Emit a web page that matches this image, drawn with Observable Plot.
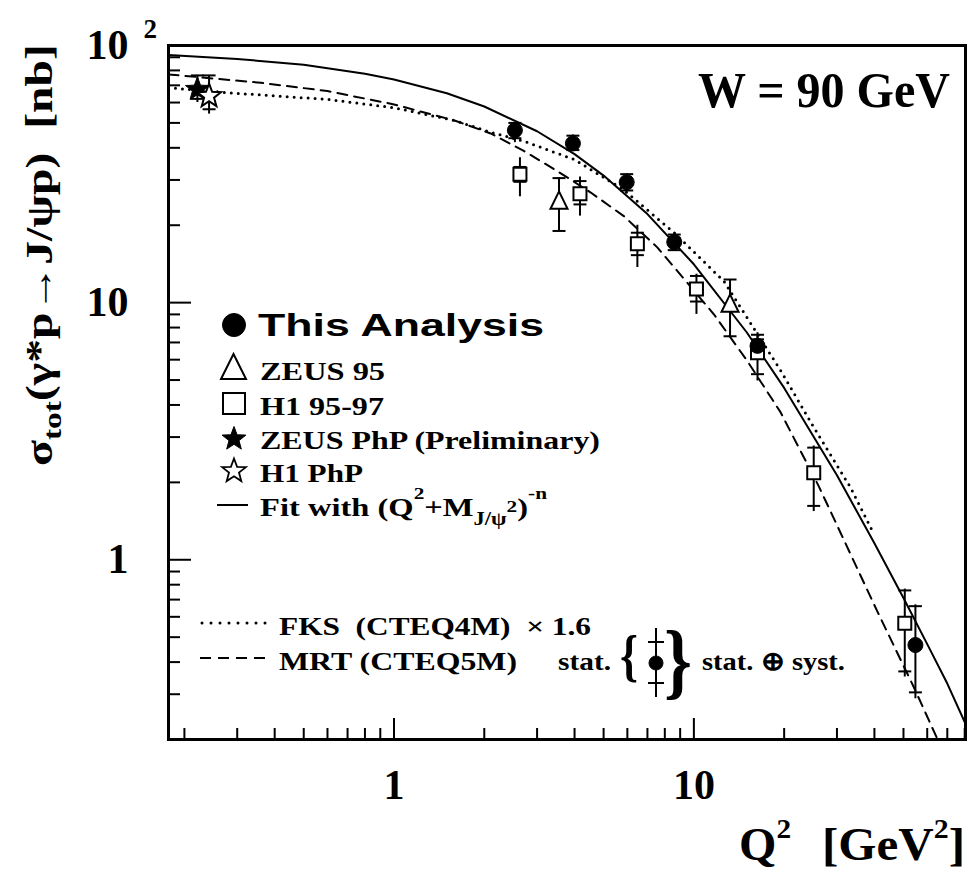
<!DOCTYPE html>
<html><head><meta charset="utf-8">
<script src="https://cdn.jsdelivr.net/npm/d3@7"></script>
<script src="https://cdn.jsdelivr.net/npm/@observablehq/plot@0.6"></script>
<style>html,body{margin:0;padding:0;background:#fff;} svg{display:block}</style>
</head><body><div id="chart"></div>
<script>
// ---------- axis settings ----------
const xDomain = [0.177, 80.5];
const yDomain = [0.2, 100];
const xMajor = [1, 10];
const xTickLabels = ["1", "10"];
const xMinor = [0.2,0.3,0.4,0.5,0.6,0.7,0.8,0.9, 2,3,4,5,6,7,8,9, 20,30,40,50,60,70,80];
const yMajor = [1, 10, 100];
const yTickLabels = ["1", "10", "10"];
const yMinor = [0.3,0.4,0.5,0.6,0.7,0.8,0.9, 2,3,4,5,6,7,8,9, 20,30,40,50,60,70,80,90];

// ---------- This Analysis ----------
const anaQ2    = [2.53, 3.95, 5.97, 8.6, 16.3, 54.8];
const anaSig   = [46.8, 41.6, 29.4, 17.2, 6.79, 0.466];
const anaStatLo= [43.6, 39.2, 27.3, 16.0, 6.3, 0.305];
const anaStatHi= [50.0, 44.6, 31.6, 18.4, 7.5, 0.66];
const anaTotLo = [41.9, 38.9, 27.0, 15.9, 6.2, 0.288];
const anaTotHi = [50.1, 44.9, 31.7, 18.5, 7.64, 0.668];

// ---------- H1 95-97 ----------
const h1Q2    = [2.63, 4.17, 6.48, 10.2, 16.3, 25.1, 50.5];
const h1Sig   = [31.6, 26.5, 16.96, 11.3, 6.38, 2.18, 0.566];
const h1StatLo= [29.5, 24.1, 15.3, 10.1, 5.27, 1.62, 0.368];
const h1StatHi= [33.7, 29.7, 18.7, 12.7, 7.2, 2.73, 0.76];
const h1TotLo = [25.8, 21.7, 13.7, 9.0, 4.96, 1.54, 0.35];
const h1TotHi = [36.6, 30.8, 20.0, 12.9, 7.42, 2.77, 0.769];

// ---------- ZEUS 95 ----------
const z95Q2    = [3.55, 13.2];
const z95Sig   = [24.8, 9.86];
const z95StatLo= [19.0, 7.4];
const z95StatHi= [30.5, 12.3];
const z95TotLo = [18.9, 7.36];
const z95TotHi = [30.6, 12.3];

// ---------- Photoproduction ----------
const zphpQ2 = [0.221], zphpSig = [67.5], zphpStatLo = [62], zphpStatHi = [76.5], zphpTotLo = [60], zphpTotHi = [76.5];
const h1phpQ2 = [0.2417], h1phpSig = [63.6], h1phpStatLo = [56.5], h1phpStatHi = [76.5], h1phpTotLo = [54.1], h1phpTotHi = [76.5];

// ---------- curves ----------
const fitQ2  = [0.177,0.3,0.5,0.8,1,1.5,2,3,4,5,7,10,15,20,30,40,50,60,70,80.5];
const fitSig = [91.8,88.7,84.1,77.7,73.8,65.2,57.9,46.4,37.8,31.2,22.1,14.1,7.67,4.66,2.13,1.16,0.71,0.47,0.33,0.23];
const fksQ2  = [0.177,0.28,0.6,1,1.6,2.1,2.7,4,5.8,8.6,12.6,19.5,25,33.3,39.3];
const fksSig = [68.5,65.5,61.7,57.3,51,46,42.5,36,27.6,18.7,12.1,5.43,3.3,1.91,1.30];
const mrtQ2  = [0.177,0.36,0.6,1,1.6,2.1,2.71,3.5,4.53,5.84,7.55,9.2,11.66,15.07,19.45,26.1,40.9,54.1,65];
const mrtSig = [77.2,71.6,66.5,59,51,45.5,38.9,32.5,26.8,21.7,16.4,12.5,9.01,5.93,3.75,1.93,0.63,0.32,0.2];

// ---------- build tables ----------
const pts = (q, s, slo, shi, tlo, thi) => q.map((v, i) => ({q2: v, s: s[i], slo: slo[i], shi: shi[i], tlo: tlo[i], thi: thi[i]}));
const curve = (q, s) => q.map((v, i) => ({q2: v, s: s[i]}));
const ana = pts(anaQ2, anaSig, anaStatLo, anaStatHi, anaTotLo, anaTotHi);
const h1 = pts(h1Q2, h1Sig, h1StatLo, h1StatHi, h1TotLo, h1TotHi);
const z95 = pts(z95Q2, z95Sig, z95StatLo, z95StatHi, z95TotLo, z95TotHi);
const zphp = pts(zphpQ2, zphpSig, zphpStatLo, zphpStatHi, zphpTotLo, zphpTotHi);
const h1php = pts(h1phpQ2, h1phpSig, h1phpStatLo, h1phpStatHi, h1phpTotLo, h1phpTotHi);
const allPts = [...zphp, ...h1php, ...ana, ...h1, ...z95];

// ---------- symbols ----------
const R = (size) => Math.sqrt(size / Math.PI);
const hbar = {draw(c, size){const r = R(size); c.moveTo(-r, 0); c.lineTo(r, 0);}};
const sq = {draw(c, size){const r = R(size); c.moveTo(-r,-r); c.lineTo(r,-r); c.lineTo(r,r); c.lineTo(-r,r); c.closePath();}};
const tri = {draw(c, size){const r = R(size); c.moveTo(0,-1.15*r); c.lineTo(r,0.9*r); c.lineTo(-r,0.9*r); c.closePath();}};
const star = {draw(c, size){const r = R(size), ri = r*0.42; for (let i=0;i<10;i++){const a=-Math.PI/2+i*Math.PI/5, rr=i%2?ri:r; const px=rr*Math.cos(a), py=rr*Math.sin(a); if(i) c.lineTo(px,py); else c.moveTo(px,py);} c.closePath();}};

const W = 969, H = 872, mL = 168, mR = 4, mT = 45, mB = 133;
const plotW = W - mL - mR, plotH = H - mT - mB;
const SERIF = "Liberation Serif, Times New Roman, serif";

const errMarks = (data) => [
  Plot.ruleX(data, {x: "q2", y1: "tlo", y2: "thi", stroke: "black", strokeWidth: 2}),
  Plot.dot(data, {x: "q2", y: "slo", symbol: hbar, r: 6.5, stroke: "black", strokeWidth: 2, fill: "none"}),
  Plot.dot(data, {x: "q2", y: "shi", symbol: hbar, r: 6.5, stroke: "black", strokeWidth: 2, fill: "none"})
];

const chart = Plot.plot({
  width: W, height: H,
  marginLeft: mL, marginRight: mR, marginTop: mT, marginBottom: mB,
  x: {type: "log", domain: xDomain, axis: null},
  y: {type: "log", domain: yDomain, axis: null},
  style: {background: "white", fontFamily: SERIF, color: "black"},
  marks: [
    // ticks inside the frame
    Plot.tickY(yMajor, {y: d => d, insetRight: plotW - 23, stroke: "black", strokeWidth: 2}),
    Plot.tickY(yMinor, {y: d => d, insetRight: plotW - 12, stroke: "black", strokeWidth: 2}),
    Plot.tickX(xMajor, {x: d => d, insetTop: plotH - 21, stroke: "black", strokeWidth: 2}),
    Plot.tickX(xMinor, {x: d => d, insetTop: plotH - 11, stroke: "black", strokeWidth: 2}),
    // tick labels
    Plot.text(yMajor, {y: d => d, text: (d, i) => yTickLabels[i], frameAnchor: "left", dx: -40, textAnchor: "end", lineAnchor: "middle", fontSize: 42, fontWeight: "bold", fontFamily: SERIF}),
    Plot.text([100], {y: d => d, text: () => "2", frameAnchor: "left", dx: -25, dy: -16, textAnchor: "start", lineAnchor: "middle", fontSize: 27, fontWeight: "bold", fontFamily: SERIF}),
    Plot.text(xMajor, {x: d => d, text: (d, i) => xTickLabels[i], frameAnchor: "bottom", dy: 46, textAnchor: "middle", lineAnchor: "middle", fontSize: 42, fontWeight: "bold", fontFamily: SERIF}),
    // curves
    Plot.line(curve(fitQ2, fitSig), {x: "q2", y: "s", stroke: "black", strokeWidth: 2, clip: true}),
    Plot.line(curve(fksQ2, fksSig), {x: "q2", y: "s", stroke: "black", strokeWidth: 3, strokeDasharray: "0,7", strokeLinecap: "round", clip: true}),
    Plot.line(curve(mrtQ2, mrtSig), {x: "q2", y: "s", stroke: "black", strokeWidth: 2, strokeDasharray: "10,7", clip: true}),
    // error bars
    ...errMarks(allPts),
    // markers
    Plot.dot(zphp, {x: "q2", y: "s", symbol: star, r: 12.5, fill: "black", stroke: "black", strokeWidth: 1}),
    Plot.dot(h1php, {x: "q2", y: "s", symbol: star, r: 12.5, fill: "white", stroke: "black", strokeWidth: 2}),
    Plot.dot(z95, {x: "q2", y: "s", symbol: tri, r: 8.5, fill: "white", stroke: "black", strokeWidth: 2}),
    Plot.dot(h1, {x: "q2", y: "s", symbol: sq, r: 6.5, fill: "white", stroke: "black", strokeWidth: 2}),
    Plot.dot(ana, {x: "q2", y: "s", r: 7.5, fill: "black", stroke: "black", strokeWidth: 1}),
    Plot.frame({stroke: "black", strokeWidth: 3})
  ]
});
document.getElementById("chart").appendChild(chart);

// ---------- titles and legend (text) ----------
const svg = d3.select(chart);
const g = svg.append("g").attr("fill", "black").style("white-space", "pre");

function addText(x, y, parts, opts) {
  const t = g.append("text").attr("x", x).attr("y", y)
    .attr("font-family", opts.family || SERIF).attr("font-weight", "bold")
    .attr("font-size", opts.size).attr("text-anchor", opts.anchor || "start");
  if (opts.transform) t.attr("transform", opts.transform);
  if (opts.len) t.attr("textLength", opts.len).attr("lengthAdjust", "spacingAndGlyphs");
  for (const p of parts) {
    const ts = t.append("tspan").text(p.t);
    if (p.dy) ts.attr("dy", p.dy);
    if (p.size) ts.attr("font-size", p.size);
  }
  return t;
}

// y-axis title (rotated)
addText(0, 0, [
  {t: "σ"}, {t: "tot", dy: 9, size: 26}, {t: "(γ*p→J/ψp)  [nb]", dy: -9}
], {size: 37, transform: "translate(52,466) rotate(-90)", len: 422});

// x-axis title
addText(739, 860, [{t: "Q"}, {t: "2", dy: -22, size: 28}], {size: 46, len: 52});
addText(822, 860, [{t: "[GeV"}, {t: "2", dy: -22, size: 28}, {t: "]", dy: 22}], {size: 46, len: 143});

// W = 90 GeV
addText(698, 107, [{t: "W = 90 GeV"}], {size: 50, len: 252});

// legend texts
addText(258, 336, [{t: "This Analysis"}], {size: 32, family: "Liberation Sans, Arial, sans-serif", len: 286});
addText(260, 380, [{t: "ZEUS 95"}], {size: 26, len: 125});
addText(260, 415, [{t: "H1 95-97"}], {size: 26, len: 124});
addText(260, 449, [{t: "ZEUS PhP (Preliminary)"}], {size: 26, len: 340});
addText(260, 482, [{t: "H1 PhP"}], {size: 26, len: 103});
addText(260, 516, [
  {t: "Fit with (Q"}, {t: "2", dy: -17, size: 17}, {t: "+M", dy: 17}, {t: "J/ψ", dy: 9, size: 18},
  {t: "2", dy: -13, size: 17}, {t: ")", dy: 4}, {t: "-n", dy: -17, size: 17}
], {size: 26, len: 287});

addText(279, 635, [{t: "FKS  (CTEQ4M)  × 1.6"}], {size: 26, len: 312});
addText(279, 670, [{t: "MRT (CTEQ5M)"}], {size: 26, len: 238});
addText(558, 670, [{t: "stat."}], {size: 26, len: 53});
addText(620, 675, [{t: "{"}], {size: 58, len: 18});
addText(664, 689, [{t: "}"}], {size: 84, len: 28});
addText(702, 670, [{t: "stat. ⊕ syst."}], {size: 26, len: 143});

// legend symbols
const lg = svg.append("g").attr("stroke", "black");
lg.append("circle").attr("cx", 234).attr("cy", 325).attr("r", 11.5).attr("fill", "black");
lg.append("path").attr("d", "M233.5,354 L246,379 L221,379 Z").attr("fill", "white").attr("stroke-width", 2);
lg.append("rect").attr("x", 223).attr("y", 393).attr("width", 22).attr("height", 21).attr("fill", "white").attr("stroke-width", 2);
const starPath = (cx, cy, r) => { let s = ""; for (let i=0;i<10;i++){const a=-Math.PI/2+i*Math.PI/5, rr=i%2?r*0.42:r; s += (i?"L":"M") + (cx+rr*Math.cos(a)).toFixed(1) + "," + (cy+rr*Math.sin(a)).toFixed(1);} return s + "Z"; };
lg.append("path").attr("d", starPath(234, 439, 12.5)).attr("fill", "black");
lg.append("path").attr("d", starPath(234, 471, 12.5)).attr("fill", "white").attr("stroke-width", 1.8);
lg.append("line").attr("x1", 217).attr("x2", 248).attr("y1", 505).attr("y2", 505).attr("stroke-width", 2);
lg.append("line").attr("x1", 202).attr("x2", 266).attr("y1", 623).attr("y2", 623).attr("stroke-width", 3).attr("stroke-dasharray", "0,9").attr("stroke-linecap", "round");
lg.append("line").attr("x1", 200).attr("x2", 266).attr("y1", 658).attr("y2", 658).attr("stroke-width", 2).attr("stroke-dasharray", "11,7");
lg.append("line").attr("x1", 656).attr("x2", 656).attr("y1", 628).attr("y2", 697).attr("stroke-width", 2);
lg.append("line").attr("x1", 648).attr("x2", 664).attr("y1", 642).attr("y2", 642).attr("stroke-width", 2);
lg.append("line").attr("x1", 648).attr("x2", 664).attr("y1", 683).attr("y2", 683).attr("stroke-width", 2);
lg.append("circle").attr("cx", 656).attr("cy", 663).attr("r", 7).attr("fill", "black");
</script>
</body></html>
